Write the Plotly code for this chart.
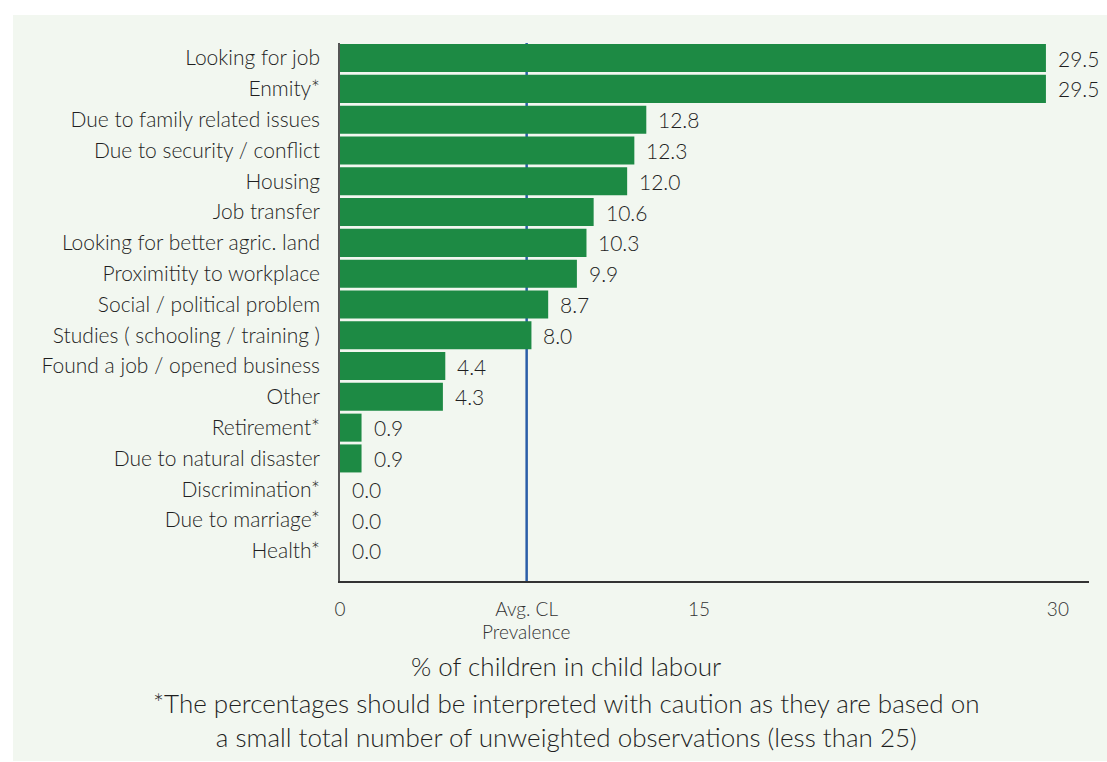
import plotly.graph_objects as go

# Reasons for migration and share of children in child labour (%)
reasons = [
    "Looking for job",
    "Enmity*",
    "Due to family related issues",
    "Due to security / conflict",
    "Housing",
    "Job transfer",
    "Looking for better agric. land",
    "Proximitity to workplace",
    "Social / political problem",
    "Studies ( schooling / training )",
    "Found a job / opened business",
    "Other",
    "Retirement*",
    "Due to natural disaster",
    "Discrimination*",
    "Due to marriage*",
    "Health*",
]
child_labour_pct = [29.5, 29.5, 12.8, 12.3, 12.0, 10.6, 10.3, 9.9, 8.7, 8.0,
                    4.4, 4.3, 0.9, 0.9, 0.0, 0.0, 0.0]
avg_cl_prevalence = 7.8

x_tick_vals = [0, avg_cl_prevalence, 15, 30]
x_tick_text = ["0", "Avg. CL", "15", "30"]
avg_label_second_line = "Prevalence"

x_title = "% of children in child labour"
footnote = ("*The percentages should be interpreted with caution as they are based on"
            "<br>a small total number of unweighted observations (less than 25)")

W, H = 1107, 762
M_L, M_R, M_T, M_B = 340, 18, 43, 181
PLOT_W = W - M_L - M_R
PLOT_H = H - M_T - M_B

FONT = "Lato"
TEXT = "#1f1f1f"
GREEN = "#1d8a44"
PANEL = "#f2f7f0"


def px_x(px):
    return (px - M_L) / PLOT_W


def px_y(py):
    return (H - M_B - py) / PLOT_H


fig = go.Figure()
fig.add_trace(go.Bar(
    x=child_labour_pct,
    y=reasons,
    orientation="h",
    marker=dict(color=GREEN, line=dict(width=0)),
    hoverinfo="x+y",
))

annotations = []
for r, v in zip(reasons, child_labour_pct):
    annotations.append(dict(
        x=v, y=r, xref="x", yref="y", text=f"{v:.1f}", showarrow=False,
        xanchor="left", yanchor="middle", xshift=10,
        font=dict(family=FONT, size=21, color=TEXT, weight=300),
    ))

annotations.append(dict(
    x=avg_cl_prevalence, y=px_y(631), xref="x", yref="paper",
    text=avg_label_second_line, showarrow=False,
    xanchor="center", yanchor="middle",
    font=dict(family=FONT, size=19, color="#333333", weight=300),
))
annotations.append(dict(
    x=px_x(566), y=px_y(666), xref="paper", yref="paper", text=x_title,
    showarrow=False, xanchor="center", yanchor="middle",
    font=dict(family=FONT, size=26, color=TEXT, weight=300),
))
annotations.append(dict(
    x=px_x(566), y=px_y(720), xref="paper", yref="paper", text=footnote,
    showarrow=False, xanchor="center", yanchor="middle", align="center",
    font=dict(family=FONT, size=26, color=TEXT, weight=300),
))

shapes = [
    # light panel behind the chart
    dict(type="rect", xref="paper", yref="paper",
         x0=px_x(13), x1=px_x(W + 5), y0=px_y(761), y1=px_y(15),
         fillcolor=PANEL, line=dict(width=0), layer="below"),
    # average child labour prevalence
    dict(type="line", xref="x", yref="paper",
         x0=avg_cl_prevalence, x1=avg_cl_prevalence, y0=0, y1=1,
         line=dict(color="#2b5ea8", width=2.5), layer="below"),
]

fig.update_layout(
    width=W, height=H,
    margin=dict(l=M_L, r=M_R, t=M_T, b=M_B),
    paper_bgcolor="white",
    plot_bgcolor="rgba(0,0,0,0)",
    bargap=0.09,
    showlegend=False,
    font=dict(family=FONT, color=TEXT, weight=300),
    annotations=annotations,
    shapes=shapes,
)
fig.update_xaxes(
    range=[0, 31.3],
    tickvals=x_tick_vals, ticktext=x_tick_text,
    tickfont=dict(family=FONT, size=19, color="#333333", weight=300),
    ticks="", ticklabelstandoff=10,
    showgrid=False, zeroline=False,
    showline=True, linecolor="#333333", linewidth=1.5,
)
fig.update_yaxes(
    categoryorder="array", categoryarray=reasons,
    range=[16.98, -0.49],
    tickfont=dict(family=FONT, size=21, color=TEXT, weight=300),
    ticks="", ticklabelstandoff=14,
    showgrid=False, zeroline=False,
    showline=True, linecolor="#555555", linewidth=1.5,
)

fig.write_html("out.html")
